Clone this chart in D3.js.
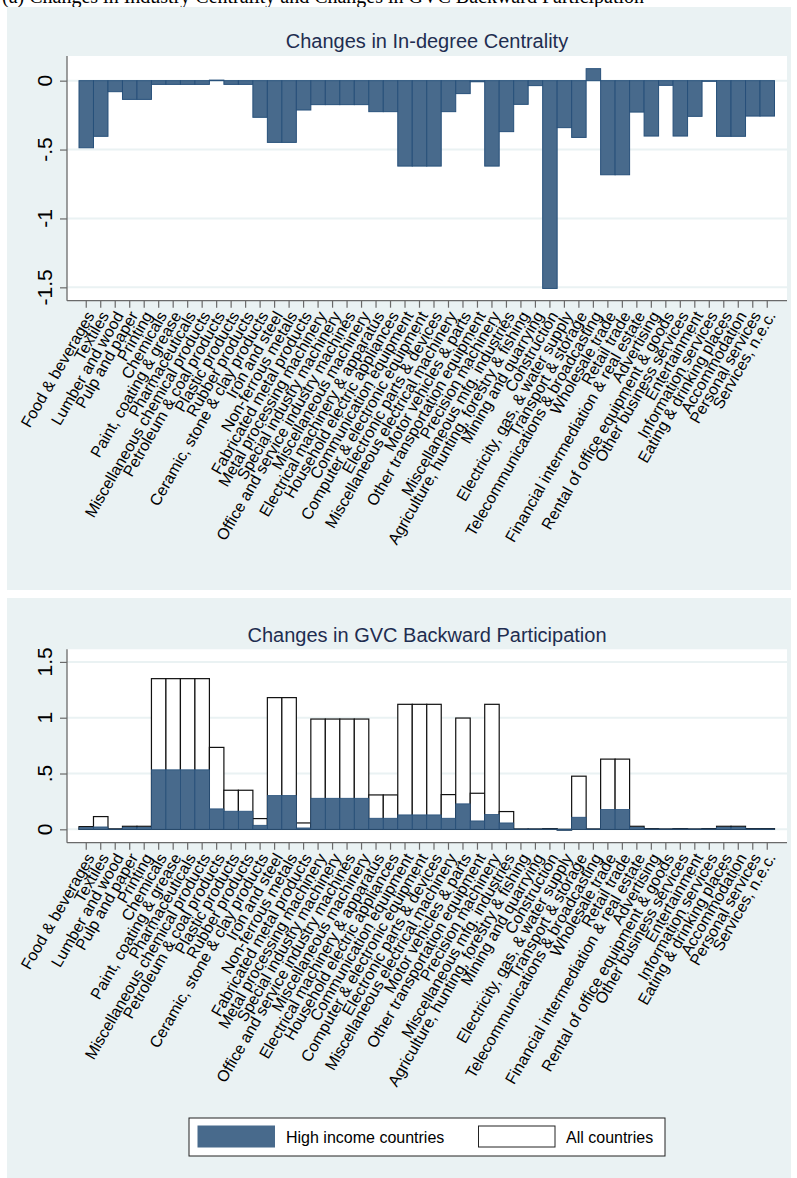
<!DOCTYPE html>
<html>
<head>
<meta charset="utf-8">
<script src="https://cdn.jsdelivr.net/npm/d3@7"></script>
<style>
  html, body { margin: 0; padding: 0; background: #ffffff; }
  svg { display: block; }
  text { font-family: "Liberation Sans", Arial, sans-serif; }
</style>
</head>
<body>
<svg id="chart" width="797" height="1178"></svg>
<script>
// Industries, in axis order
const categories = [
  "Food & beverages", "Textiles", "Lumber and wood", "Pulp and paper", "Printing",
  "Chemicals", "Paint, coating & grease", "Pharmaceuticals", "Miscellaneous chemical products",
  "Petroleum & coal products", "Plastic products", "Rubber products",
  "Ceramic, stone & clay products", "Iron and steel", "Non-ferrous metals",
  "Fabricated metal products", "Metal processing machinery", "Special industry machinery",
  "Office and service industry machines", "Miscellaneous machinery",
  "Electrical machinery & apparatus", "Household electric appliances",
  "Communication equipment", "Computer & electronic equipment", "Electronic parts & devices",
  "Miscellaneous electrical machinery", "Motor vehicles & parts",
  "Other transportation equipment", "Precision machinery", "Miscellaneous mfg. industries",
  "Agriculture, hunting, forestry & fishing", "Mining and quarrying", "Construction",
  "Electricity, gas, & water supply", "Transport & storage",
  "Telecommunications & broadcasting", "Wholesale trade", "Retail trade",
  "Financial intermediation & real estate", "Advertising",
  "Rental of office equipment & goods", "Other business services", "Entertainment",
  "Information services", "Eating & drinking places", "Accommodation",
  "Personal services", "Services, n.e.c."
];

// Change in in-degree centrality, by industry
const indegreeChange = [
  -0.487, -0.404, -0.080, -0.136, -0.136,
  -0.027, -0.027, -0.027, -0.027,
   0.004, -0.027, -0.027,
  -0.266, -0.448, -0.448,
  -0.213, -0.174, -0.174,
  -0.174, -0.174,
  -0.225, -0.225,
  -0.620, -0.620, -0.620,
  -0.225, -0.094,
  -0.008, -0.620, -0.370,
  -0.172, -0.036, -1.508,
  -0.341, -0.412,
   0.087, -0.683, -0.683,
  -0.228, -0.402,
  -0.034, -0.402, -0.259,
  -0.005, -0.404, -0.404,
  -0.257, -0.257
];

// Change in GVC backward participation: all countries
const gvcAll = [
  0.024, 0.114, 0.004, 0.027, 0.027,
  1.350, 1.350, 1.350, 1.350,
  0.734, 0.350, 0.350,
  0.096, 1.180, 1.180,
  0.057, 0.988, 0.988,
  0.988, 0.988,
  0.308, 0.308,
  1.120, 1.120, 1.120,
  0.311, 0.997,
  0.323, 1.120, 0.159,
  0.003, 0.003, 0.006,
  -0.006, 0.476,
  0.003, 0.629, 0.629,
  0.027, 0.006,
  0.003, 0.006, 0.003,
  0.006, 0.027, 0.027,
  0.006, 0.006
];

// Change in GVC backward participation: high income countries
const gvcHigh = [
  0.015, 0.021, 0.002, 0.018, 0.018,
  0.533, 0.533, 0.533, 0.533,
  0.183, 0.162, 0.162,
  0.036, 0.302, 0.302,
  0.012, 0.278, 0.278,
  0.278, 0.278,
  0.099, 0.099,
  0.129, 0.129, 0.129,
  0.099, 0.228,
  0.075, 0.132, 0.057,
  0.002, 0.002, 0.003,
  -0.008, 0.108,
  0.002, 0.177, 0.177,
  0.018, 0.003,
  0.002, 0.003, 0.002,
  0.003, 0.018, 0.018,
  0.003, 0.003
];

const indegreeTicks = [0, -0.5, -1, -1.5];
const gvcTicks = [0, 0.5, 1, 1.5];

const legendLabels = ["High income countries", "All countries"];

const BLUE = "#486a8c";
const BLUE_EDGE = "#27507a";
const PANEL_BG = "#eaf2f3";
const GRID = "#eaf2f3";
const AXIS = "#6a6a6a";
const TITLE_COLOR = "#1e2d50";

const svg = d3.select("#chart");

// Stata-style tick text: drop the leading zero
const fmt = v => {
  if (v === 0) return "0";
  let s = String(Math.abs(v)).replace(/^0\./, ".");
  return (v < 0 ? "-" : "") + s;
};

// Caption line running off the top edge
svg.append("text")
  .attr("x", 2).attr("y", 3)
  .style("font-family", "'Liberation Serif', 'Times New Roman', serif")
  .style("font-size", "20px")
  .attr("fill", "#000")
  .text("(a)  Changes in Industry Centrality and Changes in GVC Backward Participation");

function drawPanel(cfg) {
  const g = svg.append("g");

  // panel background
  g.append("rect")
    .attr("x", 7).attr("y", cfg.panelTop)
    .attr("width", 784).attr("height", cfg.panelBottom - cfg.panelTop)
    .attr("fill", PANEL_BG);

  // plot region
  const pl = 67, pr = 787, pt = cfg.plotTop, pb = cfg.plotBottom;
  g.append("rect")
    .attr("x", pl).attr("y", pt)
    .attr("width", pr - pl).attr("height", pb - pt)
    .attr("fill", "#ffffff");

  const x = d3.scaleBand()
    .domain(categories)
    .range([pl + 12, pr - 12.5])
    .padding(0);

  const y = d3.scaleLinear()
    .domain(cfg.yDomain)
    .range([pb, pt]);

  // title
  g.append("text")
    .attr("x", (pl + pr) / 2).attr("y", cfg.titleY)
    .attr("text-anchor", "middle")
    .attr("fill", TITLE_COLOR)
    .style("font-size", "20px")
    .text(cfg.title);

  // gridlines
  g.append("g").selectAll("line")
    .data(cfg.ticks)
    .join("line")
    .attr("x1", pl).attr("x2", pr)
    .attr("y1", d => y(d)).attr("y2", d => y(d))
    .attr("stroke", GRID).attr("stroke-width", 2);

  // bars
  cfg.series.forEach(s => {
    g.append("g").selectAll("rect")
      .data(categories.map((c, i) => ({ c, v: s.values[i] })))
      .join("rect")
      .attr("x", d => x(d.c))
      .attr("width", x.bandwidth())
      .attr("y", d => Math.min(y(0), y(d.v)))
      .attr("height", d => Math.abs(y(d.v) - y(0)))
      .attr("fill", s.fill)
      .attr("stroke", s.stroke)
      .attr("stroke-width", s.strokeWidth);
  });

  // y axis
  const yAxis = d3.axisLeft(y)
    .tickValues(cfg.ticks)
    .tickSize(7)
    .tickFormat("");
  const ya = g.append("g").attr("transform", `translate(${pl},0)`).call(yAxis);
  ya.select(".domain").attr("d", `M0,${pt}V${pb}`).attr("stroke", AXIS).attr("stroke-width", 1.3);
  ya.selectAll(".tick line").attr("stroke", AXIS).attr("stroke-width", 1.2);

  g.append("g").selectAll("text")
    .data(cfg.ticks)
    .join("text")
    .attr("transform", d => `translate(52,${y(d)}) rotate(-90)`)
    .attr("text-anchor", "middle")
    .attr("fill", "#000")
    .style("font-size", "21px")
    .text(fmt);

  // x axis
  const xAxis = d3.axisBottom(x).tickSize(7).tickFormat("");
  const xa = g.append("g").attr("transform", `translate(0,${pb})`).call(xAxis);
  xa.select(".domain").attr("d", `M${pl},0H${pr}`).attr("stroke", AXIS).attr("stroke-width", 1.3);
  xa.selectAll(".tick line").attr("stroke", AXIS).attr("stroke-width", 1.2);

  g.append("g").selectAll("text")
    .data(categories)
    .join("text")
    .attr("transform", d => `translate(${x(d) + x.bandwidth() / 2 + 4},${pb + 12}) rotate(-60)`)
    .attr("text-anchor", "end")
    .attr("dy", "0.35em")
    .attr("fill", "#000")
    .style("font-size", "16px")
    .text(d => d);
}

drawPanel({
  panelTop: 7, panelBottom: 590,
  plotTop: 56, plotBottom: 300.7,
  titleY: 48,
  title: "Changes in In-degree Centrality",
  yDomain: [-1.597, 0.179],
  ticks: indegreeTicks,
  series: [
    { values: indegreeChange, fill: BLUE, stroke: BLUE_EDGE, strokeWidth: 1 }
  ]
});

drawPanel({
  panelTop: 598, panelBottom: 1178,
  plotTop: 649.3, plotBottom: 842.7,
  titleY: 641.5,
  title: "Changes in GVC Backward Participation",
  yDomain: [-0.12, 1.613],
  ticks: gvcTicks,
  series: [
    { values: gvcAll, fill: "#ffffff", stroke: "#111", strokeWidth: 1.2 },
    { values: gvcHigh, fill: BLUE, stroke: BLUE_EDGE, strokeWidth: 0.8 }
  ]
});

// legend
const lg = svg.append("g");
lg.append("rect")
  .attr("x", 189).attr("y", 1118)
  .attr("width", 476).attr("height", 38)
  .attr("fill", "#ffffff").attr("stroke", "#222").attr("stroke-width", 1);

const legendItems = [
  { label: legendLabels[0], fill: BLUE, stroke: BLUE, sx: 198, tx: 286 },
  { label: legendLabels[1], fill: "#ffffff", stroke: "#222", sx: 478.5, tx: 566 }
];
legendItems.forEach(it => {
  lg.append("rect")
    .attr("x", it.sx).attr("y", 1126)
    .attr("width", 76.5).attr("height", 21)
    .attr("fill", it.fill).attr("stroke", it.stroke).attr("stroke-width", 1);
  lg.append("text")
    .attr("x", it.tx).attr("y", 1142.5)
    .attr("fill", "#000")
    .style("font-size", "16px")
    .text(it.label);
});
</script>
</body>
</html>
